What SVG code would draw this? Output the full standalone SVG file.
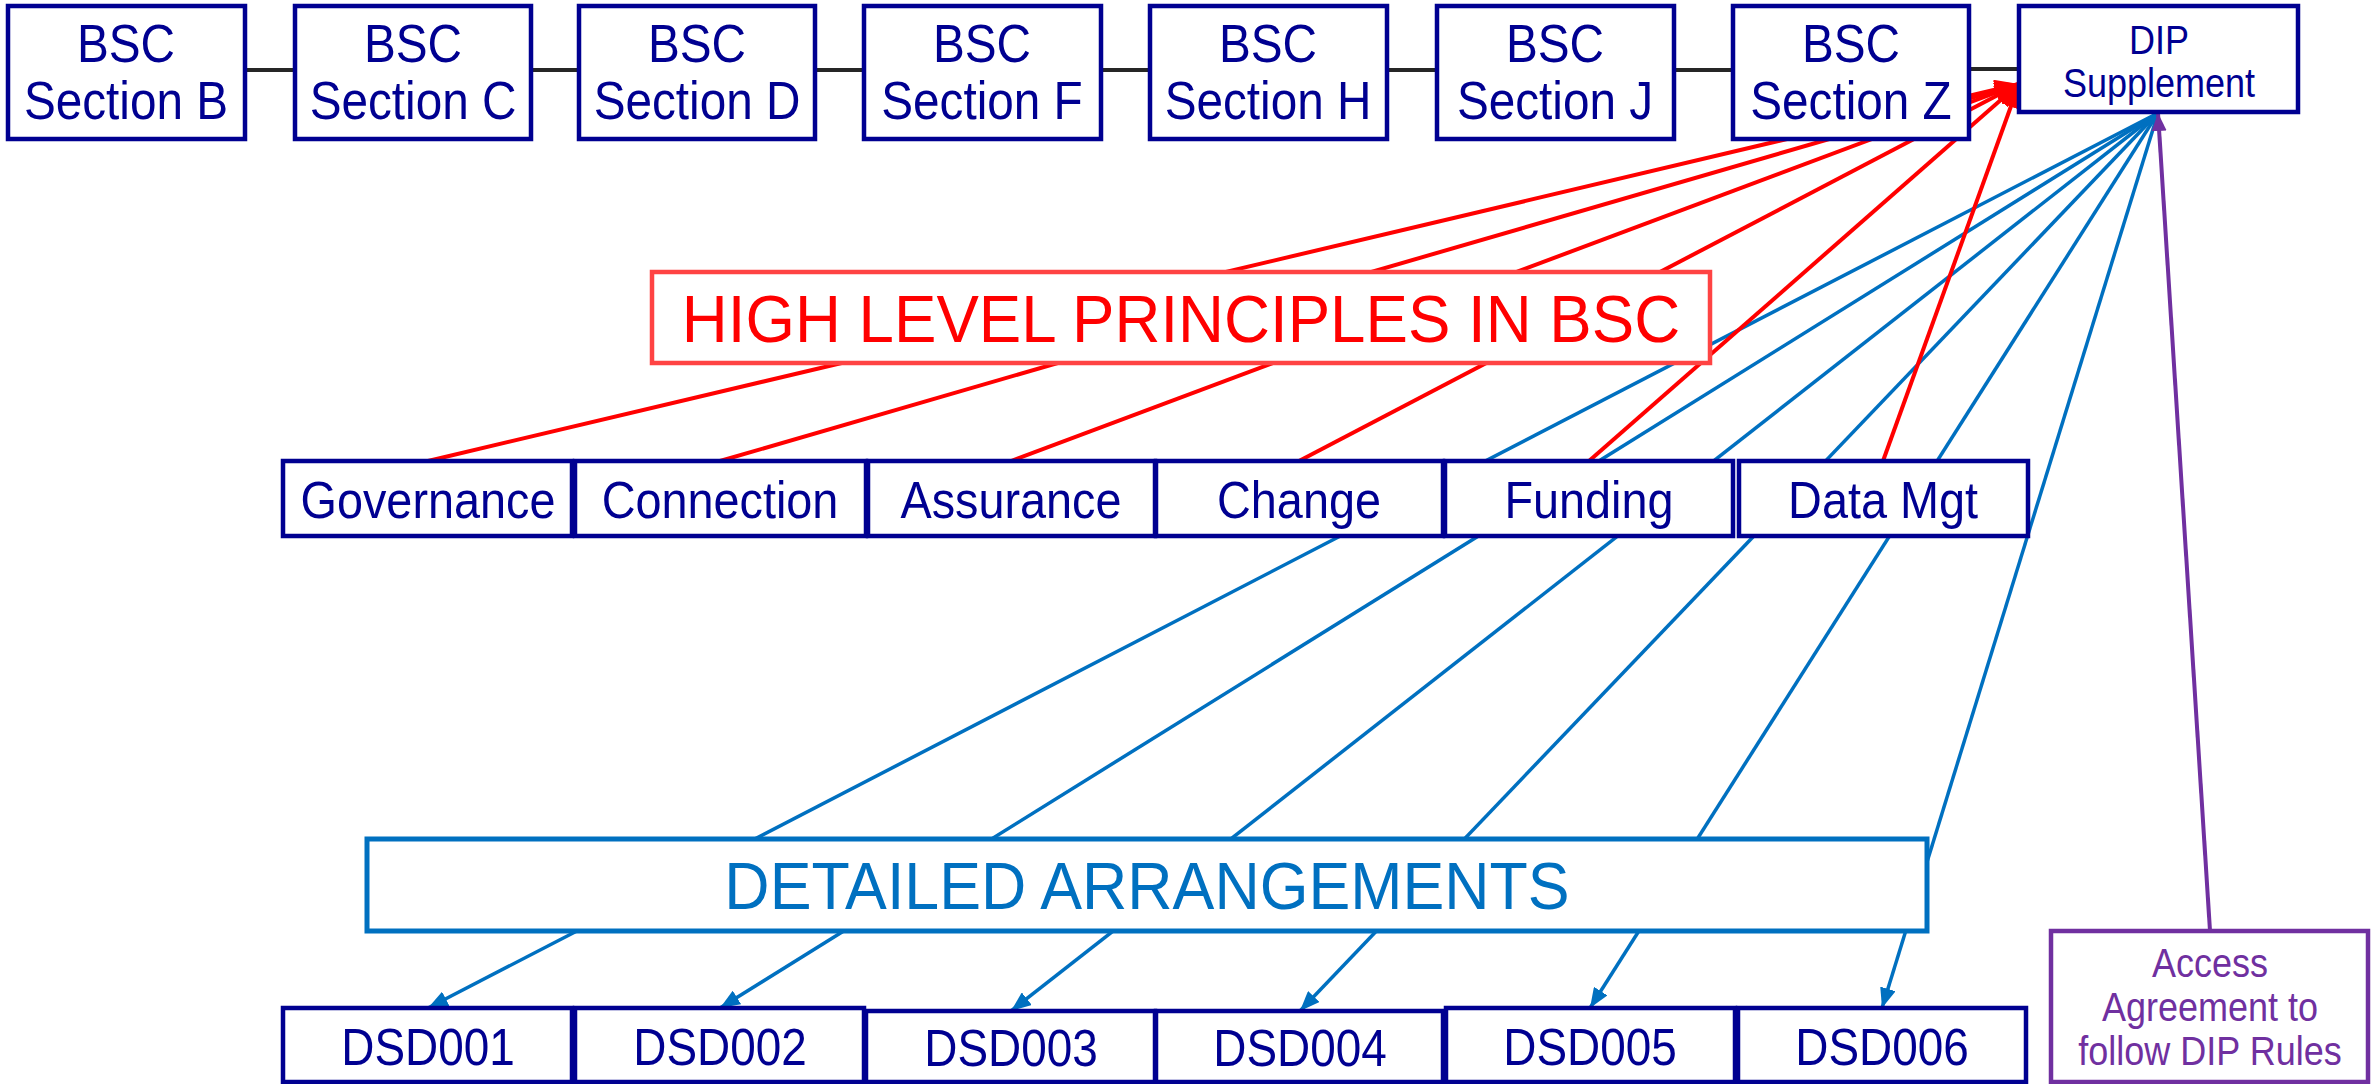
<svg xmlns="http://www.w3.org/2000/svg" width="2379" height="1084" viewBox="0 0 2379 1084">
<style>
.box{fill:#fff;stroke:#000091;stroke-width:4.5}
.t{font-family:"Liberation Sans",Arial,sans-serif;fill:#000091;text-anchor:middle}
.top{font-size:53px}
.mid{font-size:52px}
.dsd{font-size:51px}
.sm{font-size:40px}
.blk{stroke:#262626;stroke-width:4;fill:none}
.red{stroke:#FF0000;stroke-width:4;fill:none}
.blu{stroke:#0070C0;stroke-width:3.5;fill:none}
.pur{stroke:#7030A0;stroke-width:4;fill:none}
</style>
<defs>
<marker id="ar" markerUnits="userSpaceOnUse" markerWidth="24" markerHeight="20" refX="24" refY="10" orient="auto"><path d="M0,0 L24,10 L0,20 z" fill="#FF0000"/></marker>
<marker id="ab" markerUnits="userSpaceOnUse" markerWidth="20" markerHeight="16" refX="20" refY="8" orient="auto"><path d="M0,0 L20,8 L0,16 z" fill="#0070C0"/></marker>
<marker id="ap" markerUnits="userSpaceOnUse" markerWidth="18" markerHeight="15" refX="18" refY="7.5" orient="auto"><path d="M0,0 L18,7.5 L0,15 z" fill="#7030A0"/></marker>
</defs>
<g id="connectors">
<line class="blk" x1="245" y1="70" x2="295" y2="70"/>
<line class="blk" x1="531" y1="70" x2="579" y2="70"/>
<line class="blk" x1="815" y1="70" x2="864" y2="70"/>
<line class="blk" x1="1101" y1="70" x2="1150" y2="70"/>
<line class="blk" x1="1387" y1="70" x2="1437" y2="70"/>
<line class="blk" x1="1674" y1="70" x2="1733" y2="70"/>
<line class="blk" x1="1969" y1="69" x2="2019" y2="69"/>
<line class="blu" x1="2158" y1="113" x2="428" y2="1008" marker-end="url(#ab)"/>
<line class="blu" x1="2158" y1="113" x2="720" y2="1008" marker-end="url(#ab)"/>
<line class="blu" x1="2158" y1="113" x2="1011" y2="1011" marker-end="url(#ab)"/>
<line class="blu" x1="2158" y1="113" x2="1300" y2="1011" marker-end="url(#ab)"/>
<line class="blu" x1="2158" y1="113" x2="1590" y2="1008" marker-end="url(#ab)"/>
<line class="blu" x1="2158" y1="113" x2="1882" y2="1008" marker-end="url(#ab)"/>
<line class="red" x1="428" y1="461" x2="2019" y2="84" marker-end="url(#ar)"/>
<line class="red" x1="720" y1="461" x2="2019" y2="84" marker-end="url(#ar)"/>
<line class="red" x1="1011" y1="461" x2="2019" y2="84" marker-end="url(#ar)"/>
<line class="red" x1="1299" y1="461" x2="2019" y2="84" marker-end="url(#ar)"/>
<line class="red" x1="1589" y1="461" x2="2019" y2="84" marker-end="url(#ar)"/>
<line class="red" x1="1883" y1="461" x2="2019" y2="84" marker-end="url(#ar)"/>
<line class="pur" x1="2210" y1="931" x2="2158" y2="113" marker-end="url(#ap)"/>
</g>
<g id="bsc-b"><rect class="box" x="8" y="6" width="237" height="133"/><text class="t top" transform="translate(126 62) scale(0.9 1)">BSC</text><text class="t top" transform="translate(126 119) scale(0.9 1)">Section B</text></g>
<g id="bsc-c"><rect class="box" x="295" y="6" width="236" height="133"/><text class="t top" transform="translate(413 62) scale(0.9 1)">BSC</text><text class="t top" transform="translate(413 119) scale(0.9 1)">Section C</text></g>
<g id="bsc-d"><rect class="box" x="579" y="6" width="236" height="133"/><text class="t top" transform="translate(697 62) scale(0.9 1)">BSC</text><text class="t top" transform="translate(697 119) scale(0.9 1)">Section D</text></g>
<g id="bsc-f"><rect class="box" x="864" y="6" width="237" height="133"/><text class="t top" transform="translate(982 62) scale(0.9 1)">BSC</text><text class="t top" transform="translate(982 119) scale(0.9 1)">Section F</text></g>
<g id="bsc-h"><rect class="box" x="1150" y="6" width="237" height="133"/><text class="t top" transform="translate(1268 62) scale(0.9 1)">BSC</text><text class="t top" transform="translate(1268 119) scale(0.9 1)">Section H</text></g>
<g id="bsc-j"><rect class="box" x="1437" y="6" width="237" height="133"/><text class="t top" transform="translate(1555 62) scale(0.9 1)">BSC</text><text class="t top" transform="translate(1555 119) scale(0.9 1)">Section J</text></g>
<g id="bsc-z"><rect class="box" x="1733" y="6" width="236" height="133"/><text class="t top" transform="translate(1851 62) scale(0.9 1)">BSC</text><text class="t top" transform="translate(1851 119) scale(0.9 1)">Section Z</text></g>
<g id="dip"><rect class="box" x="2019" y="6" width="279" height="106"/><text class="t sm" transform="translate(2159 54) scale(0.9 1)">DIP</text><text class="t sm" transform="translate(2159 97) scale(0.9 1)">Supplement</text></g>
<g id="high-level"><rect x="652" y="272" width="1058" height="91" fill="#fff" stroke="#FF4343" stroke-width="4.5"/><text transform="translate(1181 342) scale(0.95 1)" style="font-family:'Liberation Sans',Arial,sans-serif;font-size:67px;fill:#FF0000;text-anchor:middle">HIGH LEVEL PRINCIPLES IN BSC</text></g>
<g id="governance"><rect class="box" x="283" y="461" width="289" height="75"/><text class="t mid" transform="translate(428 518) scale(0.9 1)">Governance</text></g>
<g id="connection"><rect class="box" x="575" y="461" width="291" height="75"/><text class="t mid" transform="translate(720 518) scale(0.9 1)">Connection</text></g>
<g id="assurance"><rect class="box" x="868" y="461" width="287" height="75"/><text class="t mid" transform="translate(1011 518) scale(0.9 1)">Assurance</text></g>
<g id="change"><rect class="box" x="1156" y="461" width="287" height="75"/><text class="t mid" transform="translate(1299 518) scale(0.9 1)">Change</text></g>
<g id="funding"><rect class="box" x="1445" y="461" width="288" height="75"/><text class="t mid" transform="translate(1589 518) scale(0.9 1)">Funding</text></g>
<g id="data-mgt"><rect class="box" x="1739" y="461" width="289" height="75"/><text class="t mid" transform="translate(1883 518) scale(0.9 1)">Data Mgt</text></g>
<g id="detailed"><rect x="367" y="839" width="1560" height="92" fill="#fff" stroke="#0070C0" stroke-width="5"/><text transform="translate(1147 909) scale(0.95 1)" style="font-family:'Liberation Sans',Arial,sans-serif;font-size:66px;fill:#0070C0;text-anchor:middle">DETAILED ARRANGEMENTS</text></g>
<g id="dsd001"><rect class="box" x="283" y="1008" width="289" height="74"/><text class="t dsd" transform="translate(428 1065) scale(0.9 1)">DSD001</text></g>
<g id="dsd002"><rect class="box" x="575" y="1008" width="289" height="74"/><text class="t dsd" transform="translate(720 1065) scale(0.9 1)">DSD002</text></g>
<g id="dsd003"><rect class="box" x="866" y="1011" width="289" height="71"/><text class="t dsd" transform="translate(1011 1066) scale(0.9 1)">DSD003</text></g>
<g id="dsd004"><rect class="box" x="1156" y="1011" width="287" height="71"/><text class="t dsd" transform="translate(1300 1066) scale(0.9 1)">DSD004</text></g>
<g id="dsd005"><rect class="box" x="1446" y="1008" width="289" height="74"/><text class="t dsd" transform="translate(1590 1065) scale(0.9 1)">DSD005</text></g>
<g id="dsd006"><rect class="box" x="1738" y="1008" width="288" height="74"/><text class="t dsd" transform="translate(1882 1065) scale(0.9 1)">DSD006</text></g>
<g id="access"><rect x="2051" y="931" width="317" height="151" fill="#fff" stroke="#7030A0" stroke-width="4.5"/><g style="font-family:'Liberation Sans',Arial,sans-serif;font-size:40px;fill:#7030A0;text-anchor:middle"><text transform="translate(2210 977) scale(0.9 1)">Access</text><text transform="translate(2210 1021) scale(0.9 1)">Agreement to</text><text transform="translate(2210 1065) scale(0.9 1)">follow DIP Rules</text></g></g>
</svg>
